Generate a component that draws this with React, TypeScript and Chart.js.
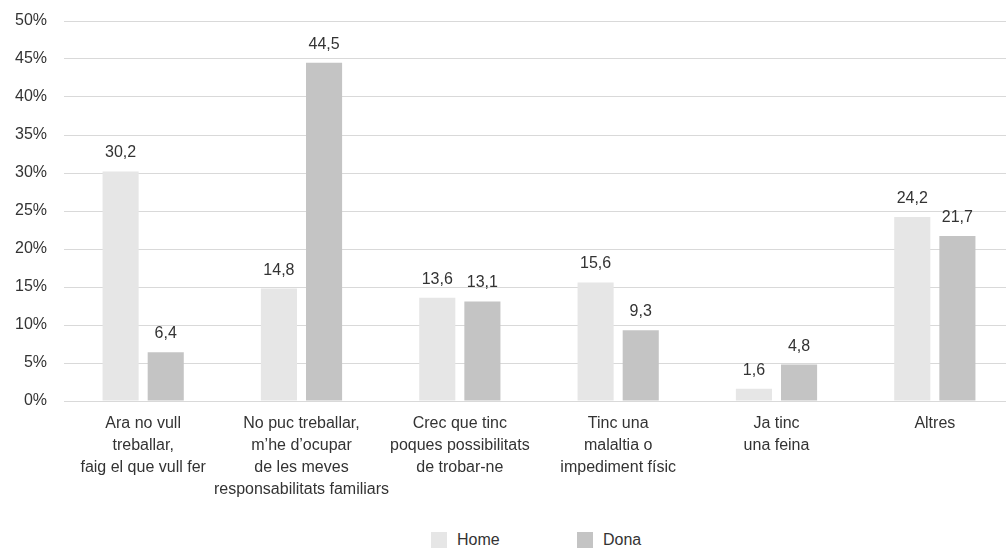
import React, { useEffect, useRef } from "react";
import { Chart, registerables } from "chart.js";

Chart.register(...registerables);

const categories: string[][] = [
  ["Ara no vull", "treballar,", "faig el que vull fer"],
  ["No puc treballar,", "m’he d’ocupar", "de les meves", "responsabilitats familiars"],
  ["Crec que tinc", "poques possibilitats", "de trobar-ne"],
  ["Tinc una", "malaltia o", "impediment físic"],
  ["Ja tinc", "una feina"],
  ["Altres"],
];
const homeValues: number[] = [30.2, 14.8, 13.6, 15.6, 1.6, 24.2];
const donaValues: number[] = [6.4, 44.5, 13.1, 9.3, 4.8, 21.7];
const seriesNames: string[] = ["Home", "Dona"];
const yMin = 0;
const yMax = 50;
const yStep = 5;

const HOME_COLOR = "#e6e6e6";
const DONA_COLOR = "#c4c4c4";
const TEXT_COLOR = "#333333";
const GRID_COLOR = "#d9d9d9";
const FONT = "'Liberation Sans', Arial, Helvetica, sans-serif";

const valueLabels = {
  id: "valueLabels",
  afterDatasetsDraw(chart: any) {
    const ctx = chart.ctx;
    ctx.save();
    ctx.font = `16px ${FONT}`;
    ctx.fillStyle = TEXT_COLOR;
    ctx.textAlign = "center";
    ctx.textBaseline = "alphabetic";
    chart.data.datasets.forEach((ds: any, i: number) => {
      const meta = chart.getDatasetMeta(i);
      meta.data.forEach((el: any, j: number) => {
        const v = ds.data[j] as number;
        ctx.fillText(v.toFixed(1).replace(".", ","), el.x, el.y - 14);
      });
    });
    ctx.restore();
  },
};

export default function App() {
  const ref = useRef<HTMLCanvasElement>(null);
  useEffect(() => {
    document.body.style.margin = "0";
    document.body.style.overflow = "hidden";
    if (!ref.current) return;
    const chart = new Chart(ref.current, {
      type: "bar",
      data: {
        labels: categories as any,
        datasets: [
          {
            label: seriesNames[0],
            data: homeValues,
            backgroundColor: HOME_COLOR,
            barPercentage: 0.8,
            categoryPercentage: 0.57,
          },
          {
            label: seriesNames[1],
            data: donaValues,
            backgroundColor: DONA_COLOR,
            barPercentage: 0.8,
            categoryPercentage: 0.57,
          },
        ],
      },
      options: {
        responsive: false,
        animation: false,
        layout: { padding: 0 },
        plugins: {
          legend: { display: false },
          tooltip: { enabled: false },
        },
        scales: {
          x: {
            grid: { display: false, drawTicks: false },
            border: { display: false },
            ticks: {
              color: TEXT_COLOR,
              font: { family: FONT, size: 16, lineHeight: 1.375 },
              padding: 12,
              maxRotation: 0,
              autoSkip: false,
            },
            afterFit: (scale: any) => {
              scale.height = 107;
            },
          },
          y: {
            min: yMin,
            max: yMax,
            grid: { color: GRID_COLOR, lineWidth: 1, drawTicks: false },
            border: { display: false },
            ticks: {
              stepSize: yStep,
              color: TEXT_COLOR,
              font: { family: FONT, size: 16 },
              padding: 17,
              callback: (v: any) => `${v}%`,
            },
            afterFit: (scale: any) => {
              scale.width = 64;
              scale.paddingTop = 21;
              scale.paddingBottom = 0;
            },
          },
        },
      },
      plugins: [valueLabels],
    });
    return () => chart.destroy();
  }, []);

  const legendItem = (name: string, color: string, left: number) => (
    <div
      style={{
        position: "absolute",
        left,
        top: 0,
        display: "flex",
        alignItems: "center",
        height: 16,
      }}
    >
      <div style={{ width: 16, height: 16, background: color, marginRight: 10 }} />
      <span style={{ fontFamily: FONT, fontSize: 16, color: TEXT_COLOR, lineHeight: "16px" }}>{name}</span>
    </div>
  );

  return (
    <div style={{ position: "relative", width: 1006, height: 549, overflow: "hidden" }}>
      <canvas ref={ref} width={1014} height={508} style={{ display: "block" }} />
      <div style={{ position: "absolute", left: 0, top: 532, width: 1006, height: 16 }}>
        {legendItem(seriesNames[0], HOME_COLOR, 431)}
        {legendItem(seriesNames[1], DONA_COLOR, 577)}
      </div>
    </div>
  );
}
